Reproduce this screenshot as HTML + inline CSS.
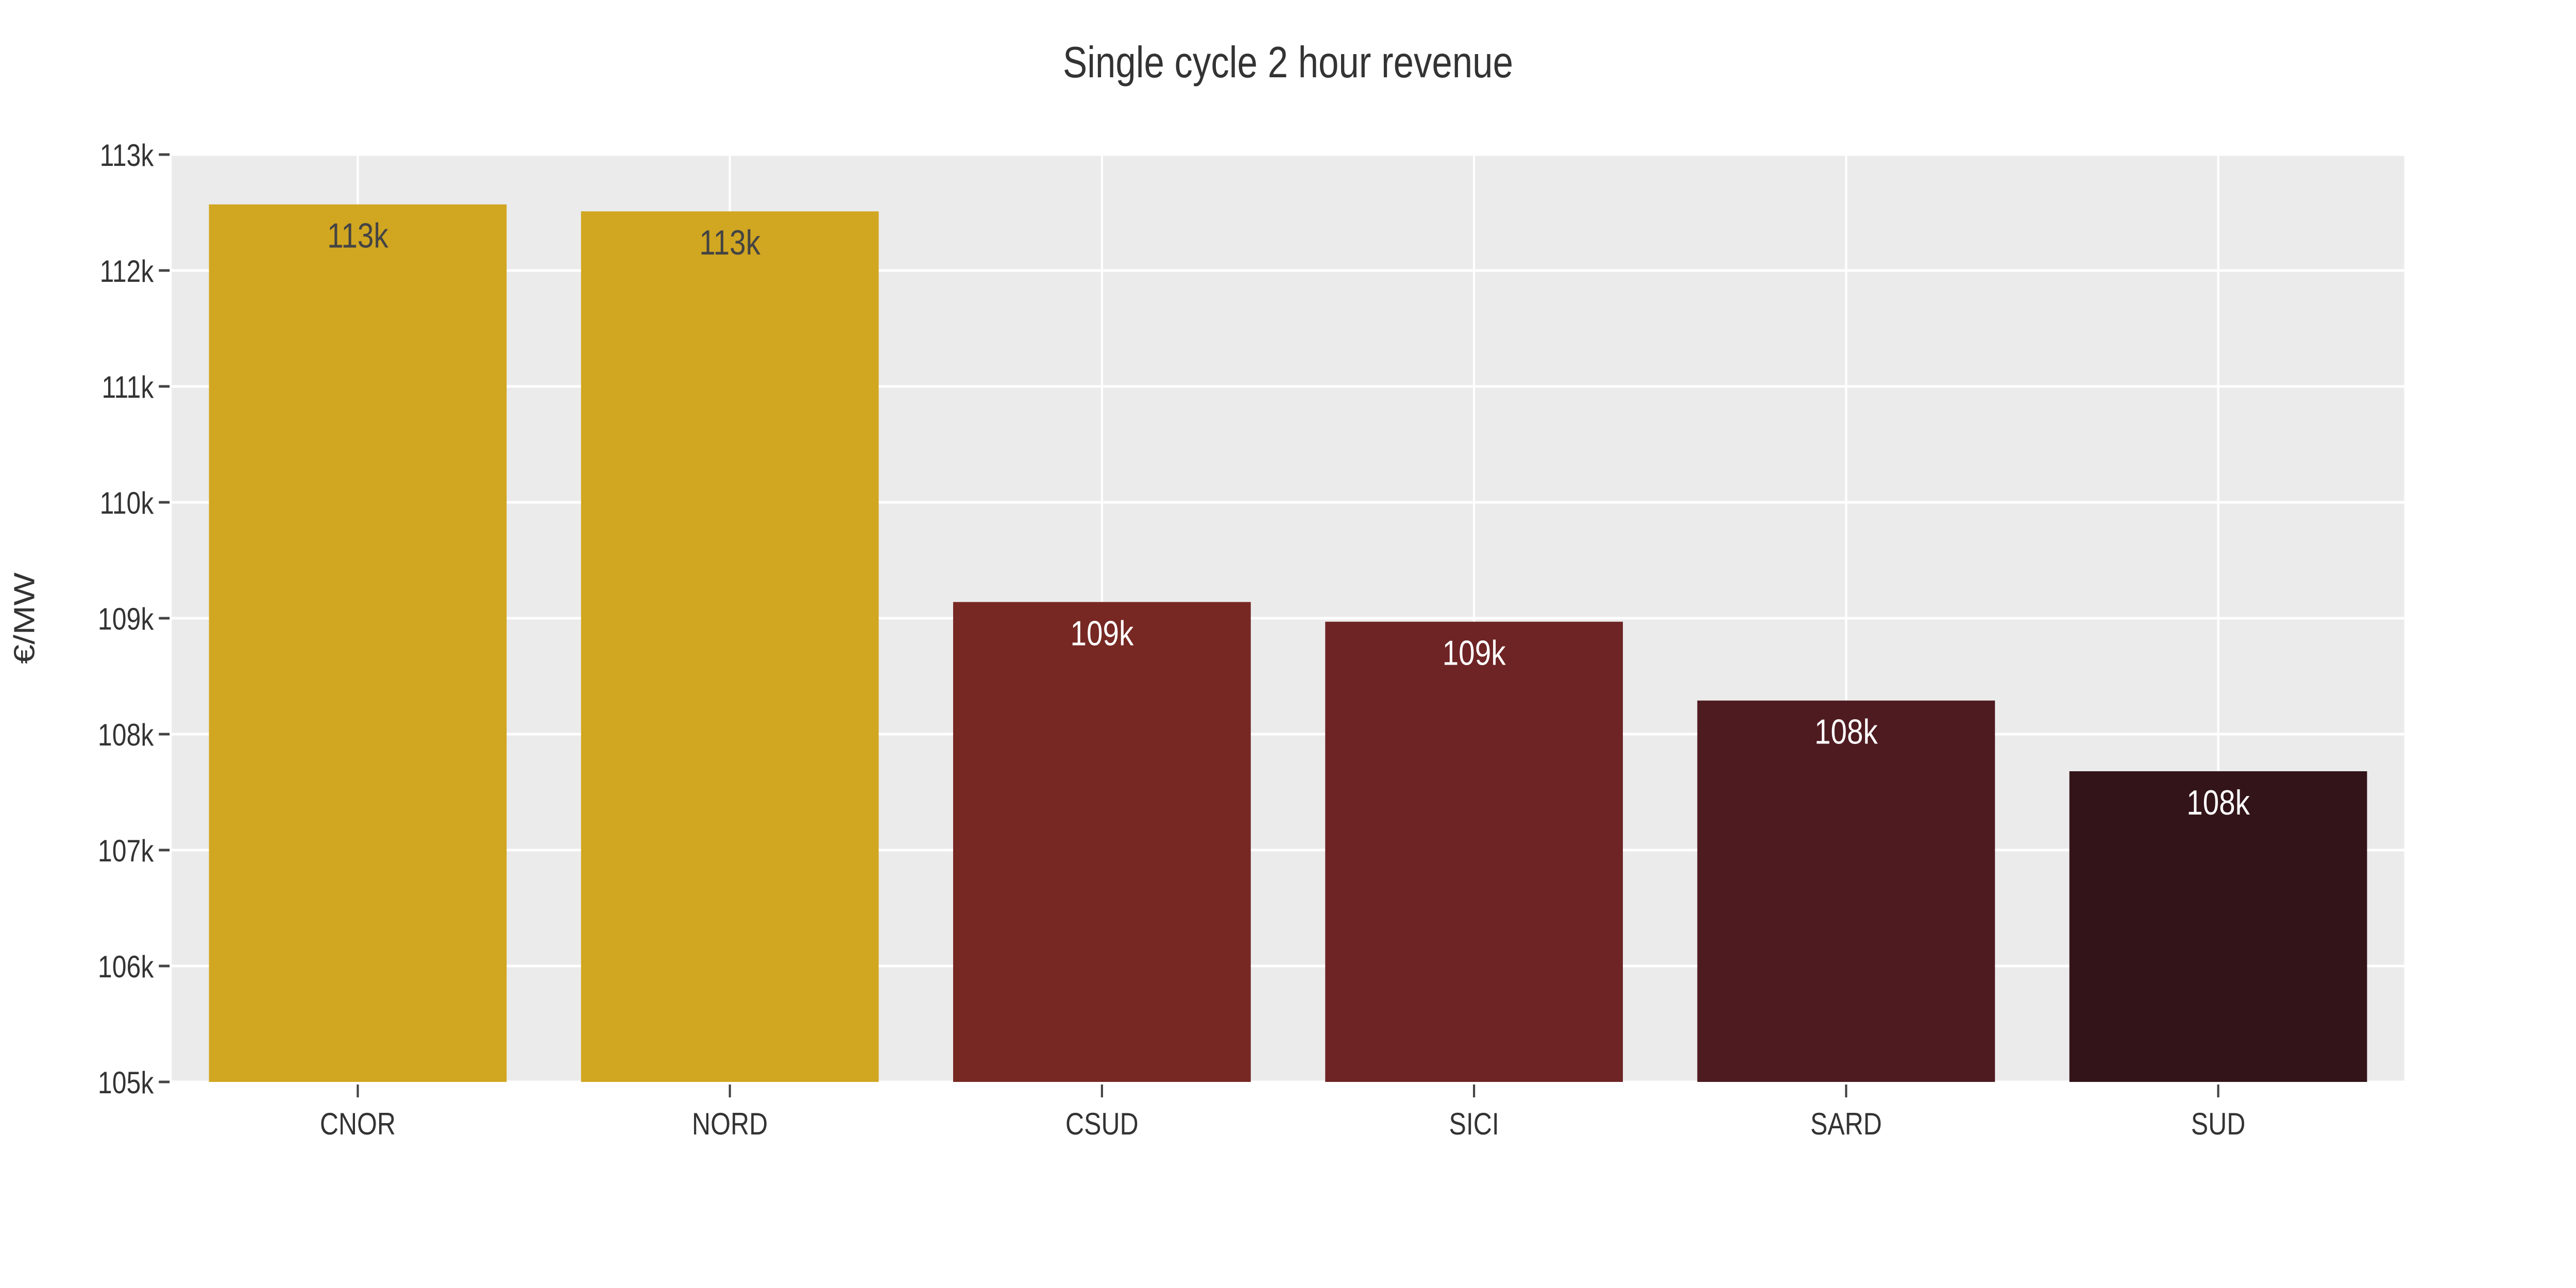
<!DOCTYPE html>
<html><head><meta charset="utf-8"><style>
html,body{margin:0;padding:0;background:#fff;width:100%;height:100%;overflow:hidden;}
svg{display:block;width:100vw;height:100vh;font-family:"Liberation Sans","DejaVu Sans",sans-serif;}
</style></head>
<body>
<svg id="chart" viewBox="0 0 6000 2500" preserveAspectRatio="none" xmlns="http://www.w3.org/2000/svg">
<rect x="0" y="0" width="6000" height="2500" fill="#fff"/>
<text x="3000" y="150" text-anchor="middle" font-size="85" fill="#333">Single cycle 2 hour revenue</text>
<text transform="translate(80,1200) rotate(-90)" text-anchor="middle" font-size="68" fill="#333">€/MW</text>
<g id="plot"></g>
</svg>
<script>
const categories = ["CNOR","NORD","CSUD","SICI","SARD","SUD"];
const values = [112570, 112510, 109140, 108970, 108290, 107680];
const labels = ["113k","113k","109k","109k","108k","108k"];
const colors = ["#D1A621","#D1A621","#772823","#6E2425","#4E1B21","#321419"];
const labelColors = ["#444444","#444444","#ffffff","#ffffff","#ffffff","#ffffff"];
const yTicks = [105000,106000,107000,108000,109000,110000,111000,112000,113000];
const yTickLabels = ["105k","106k","107k","108k","109k","110k","111k","112k","113k"];

const NS = "http://www.w3.org/2000/svg";
const L = 400, R = 5600, T = 300, B = 2100;
const yMin = 105000, yMax = 113000;
const step = (R - L) / categories.length;
function y(v){ return B - (v - yMin) / (yMax - yMin) * (B - T); }
function xc(i){ return L + step * (i + 0.5); }
const g = document.getElementById('plot');
function mk(tag, attrs){ const e = document.createElementNS(NS, tag); for (const k in attrs) e.setAttribute(k, attrs[k]); g.appendChild(e); return e; }

const bg = mk('rect', {x:L, y:T, width:R-L, height:B-T, fill:'#EBEBEB'});



yTicks.forEach((v, i) => {
  const gl = mk('line', {x1:L, x2:R, y1:y(v), y2:y(v), stroke:'#fff', 'stroke-width':5});
  
  
  const tk = mk('line', {x1:L-30, x2:L-5, y1:y(v), y2:y(v), stroke:'#444', 'stroke-width':5});
  
  
  const t = mk('text', {x:L-42, y:y(v)+22, 'text-anchor':'end', 'font-size':60, fill:'#333'});
  t.textContent = yTickLabels[i];
  
  
});

categories.forEach((c, i) => {
  const vg = mk('line', {x1:xc(i), x2:xc(i), y1:T, y2:B, stroke:'#fff', 'stroke-width':5});
  
  
});

categories.forEach((c, i) => {
  const bw = step * 0.8;
  const top = y(values[i]);
  const bar = mk('rect', {x:xc(i)-bw/2, y:top, width:bw, height:B-top, fill:colors[i]});
  
  
  const lt = mk('text', {x:xc(i), y:top+84, 'text-anchor':'middle', 'font-size':68, fill:labelColors[i]});
  lt.textContent = labels[i];
  
  
  const tk = mk('line', {x1:xc(i), x2:xc(i), y1:B+5, y2:B+30, stroke:'#444', 'stroke-width':5});
  
  
  const xt = mk('text', {x:xc(i), y:B+102, 'text-anchor':'middle', 'font-size':60, fill:'#333'});
  xt.textContent = c;
  
  
});
</script>
</body></html>
